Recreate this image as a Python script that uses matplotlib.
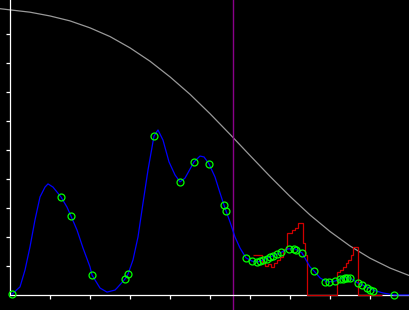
import matplotlib
matplotlib.use('Agg')
import matplotlib.pyplot as plt

# fitted (blue) curve
curve_x = [0.05, 0.25, 0.375, 0.5, 0.625, 0.75, 0.875, 0.95, 1.075, 1.275, 1.425, 1.525,
           1.675, 1.825, 2.0, 2.05, 2.25, 2.425, 2.625, 2.675, 2.875, 2.95, 3.075, 3.2,
           3.325, 3.45, 3.6, 3.7, 3.825, 3.975, 4.125, 4.25, 4.375, 4.6, 4.75, 4.85,
           4.975, 5.125, 5.25, 5.35, 5.4, 5.5, 5.625, 5.75, 5.9, 6.05, 6.2, 6.325, 6.5,
           6.75, 6.95, 7.125, 7.3, 7.5, 7.6, 7.75, 7.925, 8.125, 8.325, 8.5, 8.7, 8.925,
           9.075, 9.325, 9.6, 10.25]
curve_y = [0.003, 0.028, 0.086, 0.166, 0.259, 0.338, 0.372, 0.383, 0.372, 0.338, 0.303, 0.272,
           0.224, 0.162, 0.097, 0.069, 0.024, 0.010, 0.017, 0.024, 0.055, 0.072, 0.121, 0.200,
           0.317, 0.431, 0.548, 0.569, 0.534, 0.459, 0.414, 0.390, 0.403, 0.459, 0.479, 0.476,
           0.452, 0.407, 0.352, 0.310, 0.290, 0.252, 0.200, 0.162, 0.128, 0.117, 0.114, 0.121, 0.131,
           0.145, 0.159, 0.159, 0.145, 0.097, 0.083, 0.059, 0.045, 0.048, 0.059, 0.059, 0.041, 0.028,
           0.017, 0.007, 0.0, 0.0]

# observed points (green circles)
pts_x = [0.05, 1.275, 1.525, 2.05, 2.875, 2.95, 3.6, 4.25, 4.6, 4.975, 5.35, 5.4,
         5.9, 6.05, 6.175, 6.25, 6.325, 6.425, 6.5, 6.575, 6.675, 6.775, 6.975, 7.1, 7.15,
         7.3, 7.6, 7.875, 7.975, 8.125, 8.25, 8.325, 8.375, 8.425, 8.5, 8.7, 8.8, 8.925,
         9.0, 9.075, 9.6]
pts_y = [0.003, 0.338, 0.272, 0.069, 0.055, 0.072, 0.548, 0.390, 0.459, 0.452, 0.310, 0.290,
         0.128, 0.117, 0.114, 0.117, 0.121, 0.124, 0.131, 0.134, 0.141, 0.148, 0.159, 0.159, 0.155,
         0.145, 0.083, 0.045, 0.045, 0.048, 0.055, 0.055, 0.059, 0.059, 0.059, 0.041, 0.034, 0.024,
         0.017, 0.014, 0.0]

# red step trace (bin edges and heights)
step_edges = [6.075, 6.3, 6.375, 6.45, 6.525, 6.6, 6.675, 6.75, 6.825, 6.925, 7.05, 7.125,
              7.2, 7.325, 7.375, 7.425, 8.175, 8.25, 8.325, 8.4, 8.45, 8.525, 8.575, 8.7, 9.3]
step_vals = [0.138, 0.114, 0.100, 0.107, 0.097, 0.110, 0.121, 0.131, 0.159, 0.214, 0.224, 0.231,
             0.248, 0.179, 0.138, 0.0, 0.079, 0.086, 0.097, 0.110, 0.121, 0.138, 0.166, 0.0]

# grey decreasing curve
grey_x = [-0.25, 0.5, 1.0, 1.5, 2.0, 2.5, 3.0, 3.5, 4.0, 4.5, 5.0, 5.5, 6.0, 6.5, 7.0,
          7.5, 8.0, 8.5, 9.0, 9.5, 10.0, 10.25]
grey_y = [0.987, 0.975, 0.962, 0.945, 0.921, 0.891, 0.852, 0.806, 0.752, 0.692, 0.625, 0.554,
          0.481, 0.409, 0.340, 0.276, 0.219, 0.169, 0.127, 0.093, 0.066, 0.055]

marker_x = 5.575
x_ticks = [1, 2, 3, 4, 5, 6, 7, 8, 9]
y_ticks = [0.1, 0.2, 0.3, 0.4, 0.5, 0.6, 0.7, 0.8, 0.9]

fig = plt.figure(figsize=(4.1, 3.1), dpi=100)
fig.patch.set_facecolor('black')
ax = fig.add_axes([0, 0, 1, 1])
ax.set_facecolor('black')
ax.set_xlim(-0.25, 10.0)
ax.set_ylim(-0.0517, 1.017)

# spines crossing at the origin
for side in ['top', 'right']:
    ax.spines[side].set_visible(False)
ax.spines['left'].set_position(('data', 0))
ax.spines['bottom'].set_position(('data', 0))
ax.spines['left'].set_bounds(0, 1.017)
ax.spines['bottom'].set_bounds(0, 10.0)
for side in ['left', 'bottom']:
    ax.spines[side].set_color('white')
    ax.spines[side].set_linewidth(0.9)
ax.set_xticks(x_ticks)
ax.set_yticks(y_ticks)
ax.tick_params(direction='out', length=3, width=0.9, color='white',
               labelleft=False, labelbottom=False)

ax.plot(grey_x, grey_y, color='#999999', lw=0.9, zorder=2)
ax.axvline(marker_x, color='#8a008a', lw=1.0, zorder=2)
ax.stairs(step_vals, step_edges, baseline=None, color='#d00000', lw=0.9, zorder=3)
ax.plot(curve_x, curve_y, color='#0000ff', lw=0.9, zorder=4)
ax.plot(pts_x, pts_y, 'o', mfc='none', mec='#00ff00', ms=5, mew=0.9, zorder=5)

plt.savefig('out.png', dpi=100, facecolor='black')
